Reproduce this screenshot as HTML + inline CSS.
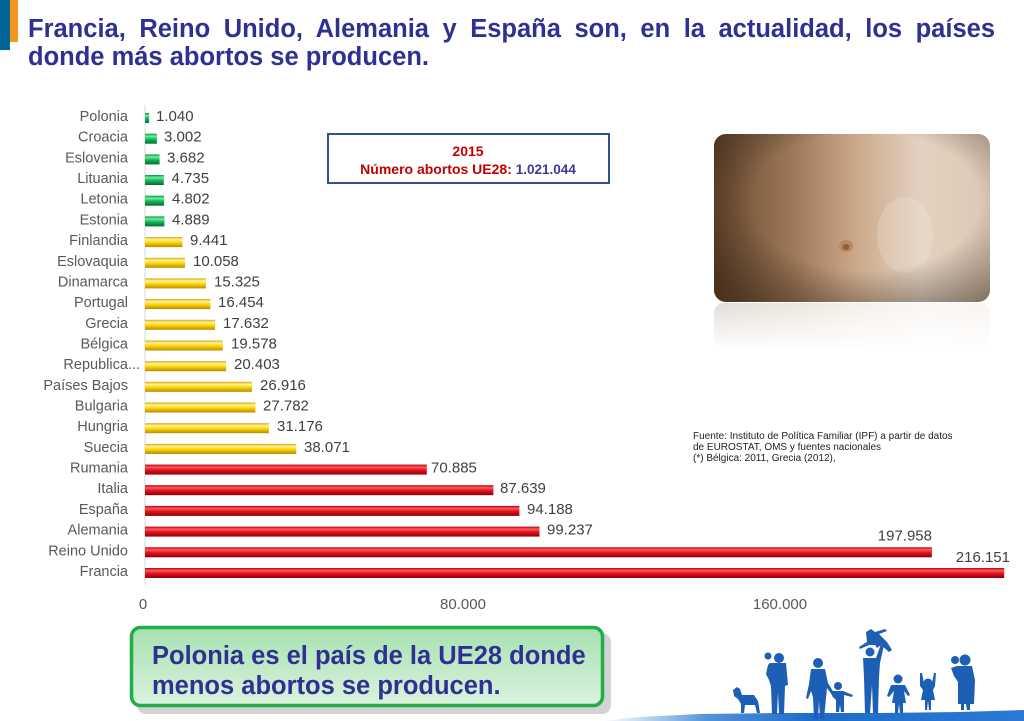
<!DOCTYPE html>
<html><head><meta charset="utf-8">
<style>
html,body{margin:0;padding:0;background:#fff;}
body{width:1024px;height:721px;position:relative;overflow:hidden;font-family:"Liberation Sans",Arial,sans-serif;}
.t{position:absolute;left:28px;width:967px;color:#2f3192;font-weight:bold;font-size:25.5px;line-height:27px;}
.l{font-family:"Liberation Sans",sans-serif;font-size:14.5px;fill:#595959;text-anchor:end;}
.v{font-family:"Liberation Sans",sans-serif;font-size:15px;fill:#404040;}
.ax{font-family:"Liberation Sans",sans-serif;font-size:15px;fill:#595959;text-anchor:middle;}
.src{font-family:"Liberation Sans",sans-serif;font-size:10px;fill:#222;}
</style></head><body>
<div style="position:absolute;left:0;top:0;width:10px;height:50px;background:#006699"></div>
<div style="position:absolute;left:10px;top:0;width:8px;height:42px;background:#f7941d"></div>
<div class="t" style="top:16px;text-align:justify;text-align-last:justify;">Francia, Reino Unido, Alemania y España son, en la actualidad, los países</div>
<div class="t" style="top:44px;">donde más abortos se producen.</div>

<svg width="1024" height="721" viewBox="0 0 1024 721" style="position:absolute;left:0;top:0">
<defs>
<linearGradient id="gG" x1="0" y1="0" x2="0" y2="1">
<stop offset="0" stop-color="#0a8a40"/><stop offset=".25" stop-color="#6ef0a0"/><stop offset=".55" stop-color="#12b85a"/><stop offset="1" stop-color="#066b30"/></linearGradient>
<linearGradient id="gY" x1="0" y1="0" x2="0" y2="1">
<stop offset="0" stop-color="#d9a800"/><stop offset=".25" stop-color="#fff3a0"/><stop offset=".55" stop-color="#ffd500"/><stop offset="1" stop-color="#b88a00"/></linearGradient>
<linearGradient id="gR" x1="0" y1="0" x2="0" y2="1">
<stop offset="0" stop-color="#b00010"/><stop offset=".25" stop-color="#ff5a5a"/><stop offset=".55" stop-color="#e3101c"/><stop offset="1" stop-color="#8f0008"/></linearGradient>
<linearGradient id="ph" x1="0" y1="0" x2="1" y2="0">
<stop offset="0" stop-color="#6a4a30"/><stop offset=".3" stop-color="#a07a5a"/><stop offset=".5" stop-color="#c9a687"/><stop offset=".75" stop-color="#e3d2c1"/><stop offset="1" stop-color="#ddc8b5"/></linearGradient>
<radialGradient id="phv" cx=".55" cy=".4" r=".75">
<stop offset=".55" stop-color="#000" stop-opacity="0"/><stop offset="1" stop-color="#2a1808" stop-opacity=".5"/></radialGradient>
<linearGradient id="rf" x1="0" y1="0" x2="0" y2="1">
<stop offset="0" stop-color="#fff" stop-opacity=".45"/><stop offset="1" stop-color="#fff" stop-opacity="1"/></linearGradient>
<linearGradient id="gb" x1="0" y1="0" x2="0" y2="1">
<stop offset="0" stop-color="#a6e1b0"/><stop offset="1" stop-color="#dcf2df"/></linearGradient>
<linearGradient id="gnd" x1="0" y1="0" x2="1" y2="0">
<stop offset="0" stop-color="#4a90e0" stop-opacity="0"/><stop offset=".25" stop-color="#2a78d0" stop-opacity=".8"/><stop offset=".5" stop-color="#1e6cc8"/><stop offset="1" stop-color="#2a7ad4"/></linearGradient>
<clipPath id="pc"><rect x="714" y="134" width="276" height="168" rx="12"/></clipPath>
</defs>

<!-- info box -->
<rect x="328" y="134" width="281" height="49" fill="#fff" stroke="#2f528f" stroke-width="2"/>
<text x="468" y="156" text-anchor="middle" font-family="Liberation Sans,sans-serif" font-weight="bold" font-size="14" fill="#c00000">2015</text>
<text x="468" y="174" text-anchor="middle" font-family="Liberation Sans,sans-serif" font-size="14" fill="#c00000"><tspan font-weight="bold">Número abortos UE28:</tspan> <tspan fill="#3a3a9a" font-weight="bold" font-size="13.5">1.021.044</tspan></text>

<!-- photo -->
<g clip-path="url(#pc)">
<rect x="714" y="134" width="276" height="168" fill="url(#ph)"/>
<ellipse cx="905" cy="235" rx="28" ry="38" fill="#f0e4d8" opacity=".3"/>
<ellipse cx="846" cy="246" rx="7" ry="6" fill="#b88963"/>
<ellipse cx="846" cy="247" rx="3.5" ry="3" fill="#8e6040"/>
<rect x="714" y="134" width="276" height="168" fill="url(#phv)"/>
</g>
<g opacity=".35"><rect x="714" y="303" width="276" height="45" rx="10" fill="url(#ph)"/></g>
<rect x="710" y="302" width="284" height="48" fill="url(#rf)"/>

<!-- axis -->
<line x1="145" y1="105" x2="145" y2="585" stroke="#d9d9d9" stroke-width="1"/>
<text class="ax" x="143" y="609">0</text>
<text class="ax" x="463" y="609">80.000</text>
<text class="ax" x="780" y="609">160.000</text>

<!-- rows -->
<g transform="translate(0,116)"><text class="l" x="128" y="5">Polonia</text><rect x="145" y="-3" width="4.1" height="10" fill="url(#gG)"/><text class="v" x="156" y="5">1.040</text></g>
<g transform="translate(0,136.7)"><text class="l" x="128" y="5">Croacia</text><rect x="145" y="-3" width="11.9" height="10" fill="url(#gG)"/><text class="v" x="164" y="5">3.002</text></g>
<g transform="translate(0,157.4)"><text class="l" x="128" y="5">Eslovenia</text><rect x="145" y="-3" width="14.6" height="10" fill="url(#gG)"/><text class="v" x="167" y="5">3.682</text></g>
<g transform="translate(0,178)"><text class="l" x="128" y="5">Lituania</text><rect x="145" y="-3" width="18.8" height="10" fill="url(#gG)"/><text class="v" x="171.5" y="5">4.735</text></g>
<g transform="translate(0,198.7)"><text class="l" x="128" y="5">Letonia</text><rect x="145" y="-3" width="19.1" height="10" fill="url(#gG)"/><text class="v" x="172" y="5">4.802</text></g>
<g transform="translate(0,219.4)"><text class="l" x="128" y="5">Estonia</text><rect x="145" y="-3" width="19.4" height="10" fill="url(#gG)"/><text class="v" x="172" y="5">4.889</text></g>
<g transform="translate(0,240.1)"><text class="l" x="128" y="5">Finlandia</text><rect x="145" y="-3" width="37.5" height="10" fill="url(#gY)"/><text class="v" x="190" y="5">9.441</text></g>
<g transform="translate(0,260.8)"><text class="l" x="128" y="5">Eslovaquia</text><rect x="145" y="-3" width="40" height="10" fill="url(#gY)"/><text class="v" x="193" y="5">10.058</text></g>
<g transform="translate(0,281.4)"><text class="l" x="128" y="5">Dinamarca</text><rect x="145" y="-3" width="60.9" height="10" fill="url(#gY)"/><text class="v" x="214" y="5">15.325</text></g>
<g transform="translate(0,302.1)"><text class="l" x="128" y="5">Portugal</text><rect x="145" y="-3" width="65.4" height="10" fill="url(#gY)"/><text class="v" x="218" y="5">16.454</text></g>
<g transform="translate(0,322.8)"><text class="l" x="128" y="5">Grecia</text><rect x="145" y="-3" width="70.1" height="10" fill="url(#gY)"/><text class="v" x="223" y="5">17.632</text></g>
<g transform="translate(0,343.5)"><text class="l" x="128" y="5">Bélgica</text><rect x="145" y="-3" width="77.8" height="10" fill="url(#gY)"/><text class="v" x="231" y="5">19.578</text></g>
<g transform="translate(0,364.2)"><text class="l" x="140" y="5">Republica...</text><rect x="145" y="-3" width="81.1" height="10" fill="url(#gY)"/><text class="v" x="234" y="5">20.403</text></g>
<g transform="translate(0,384.8)"><text class="l" x="128" y="5">Países Bajos</text><rect x="145" y="-3" width="107" height="10" fill="url(#gY)"/><text class="v" x="260" y="5">26.916</text></g>
<g transform="translate(0,405.5)"><text class="l" x="128" y="5">Bulgaria</text><rect x="145" y="-3" width="110.4" height="10" fill="url(#gY)"/><text class="v" x="263" y="5">27.782</text></g>
<g transform="translate(0,426.2)"><text class="l" x="128" y="5">Hungria</text><rect x="145" y="-3" width="123.9" height="10" fill="url(#gY)"/><text class="v" x="277" y="5">31.176</text></g>
<g transform="translate(0,446.9)"><text class="l" x="128" y="5">Suecia</text><rect x="145" y="-3" width="151.3" height="10" fill="url(#gY)"/><text class="v" x="304" y="5">38.071</text></g>
<g transform="translate(0,467.6)"><text class="l" x="128" y="5">Rumania</text><rect x="145" y="-3" width="281.8" height="10" fill="url(#gR)"/><text class="v" x="431" y="5">70.885</text></g>
<g transform="translate(0,488.2)"><text class="l" x="128" y="5">Italia</text><rect x="145" y="-3" width="348.4" height="10" fill="url(#gR)"/><text class="v" x="500" y="5">87.639</text></g>
<g transform="translate(0,508.9)"><text class="l" x="128" y="5">España</text><rect x="145" y="-3" width="374.4" height="10" fill="url(#gR)"/><text class="v" x="527" y="5">94.188</text></g>
<g transform="translate(0,529.6)"><text class="l" x="128" y="5">Alemania</text><rect x="145" y="-3" width="394.5" height="10" fill="url(#gR)"/><text class="v" x="547" y="5">99.237</text></g>
<g transform="translate(0,550.3)"><text class="l" x="128" y="5">Reino Unido</text><rect x="145" y="-3" width="786.9" height="10" fill="url(#gR)"/><text class="v" x="932" y="-10" text-anchor="end">197.958</text></g>
<g transform="translate(0,571)"><text class="l" x="128" y="5">Francia</text><rect x="145" y="-3" width="859.2" height="10" fill="url(#gR)"/><text class="v" x="1010" y="-9" text-anchor="end">216.151</text></g>

<!-- source -->
<text class="src" x="693" y="439">Fuente: Instituto de Política Familiar (IPF) a partir de datos</text>
<text class="src" x="693" y="450">de EUROSTAT, OMS y fuentes nacionales</text>
<text class="src" x="693" y="461">(*) Bélgica: 2011, Grecia (2012),</text>

<!-- green box -->
<rect x="137" y="633" width="474" height="81" rx="9" fill="#c8c8c8" opacity=".8"/>
<rect x="131.5" y="627.5" width="471" height="78" rx="9" fill="url(#gb)" stroke="#1fae48" stroke-width="3.5"/>
<text x="152" y="664" font-family="Liberation Sans,sans-serif" font-weight="bold" font-size="25.5" fill="#2f3192">Polonia es el país de la UE28 donde</text>
<text x="152" y="694" font-family="Liberation Sans,sans-serif" font-weight="bold" font-size="25.5" fill="#2f3192">menos abortos se producen.</text>

<!-- family silhouettes -->
<path d="M600,721 L640,717 L700,714 L780,713 L880,713 L960,712 L1024,710 L1024,721 Z" fill="url(#gnd)"/>
<g fill="#1c5fb4">
<path d="M733,690 l4,-3 l3,2 l2,6 l12,0 l4,6 l2,12 l-3,0 l-2,-8 l-10,0 l-1,8 l-3,0 l0,-9 l-3,-5 l-4,-3 z"/>
<circle cx="779" cy="658" r="5"/><circle cx="768" cy="656" r="3.5"/>
<path d="M770,663 l16,0 l2,22 l-3,1 l-1,28 l-5,0 l-1,-22 l-1,22 l-5,0 l-1,-28 l-2,-6 l-3,-6 l2,-9 z"/>
<circle cx="818" cy="663" r="5"/>
<path d="M811,669 l14,0 l3,14 l6,10 l-2,2 l-5,-7 l-1,10 l-2,21 l-4,0 l-1,-18 l-1,18 l-4,0 l-1,-22 l-2,-6 l-3,8 l-2,-1 l3,-14 z"/>
<circle cx="838" cy="686" r="4"/>
<path d="M833,691 l10,0 l10,4 l-1,2 l-8,-2 l0,17 l-3,0 l-1,-7 l-1,7 l-3,0 l0,-12 l-4,-4 z"/>
<circle cx="870" cy="652" r="4.5"/>
<path d="M863,658 l13,0 l5,-14 l3,1 l-4,18 l-1,14 l-1,36 l-5,0 l-1,-28 l-2,28 l-5,0 l-1,-36 z"/>
<path d="M866,632 l5,-3 l4,3 l10,-3 l2,2 l-8,3 l8,8 l5,8 l-3,2 l-8,-7 l-4,3 l-2,-3 l-6,0 l-9,4 l-1,-2 l8,-5 z"/>
<circle cx="898" cy="679" r="4.5"/>
<path d="M891,685 l14,0 l5,10 l-2,1 l-4,-5 l2,12 l-3,0 l0,10 l-3,0 l-1,-9 l-1,9 l-3,0 l0,-10 l-3,0 l2,-12 l-5,6 l-2,-1 z"/>
<circle cx="928" cy="683" r="4.5"/>
<path d="M920,673 l2,0 l2,10 l8,0 l2,-10 l2,0 l-1,13 l-2,4 l2,10 l-4,0 l0,10 l-2,0 l-1,-9 l-1,9 l-2,0 l0,-10 l-4,0 l2,-10 l-3,-4 z"/>
<circle cx="965" cy="660" r="5.5"/><circle cx="955" cy="660" r="4"/>
<path d="M957,666 l15,0 l3,14 l-1,24 l-4,0 l0,6 l-3,0 l-1,-6 l-2,0 l0,6 l-3,0 l0,-6 l-3,0 l0,-22 l-4,-6 l-3,-8 z"/>
</g>
</svg>
</body></html>
